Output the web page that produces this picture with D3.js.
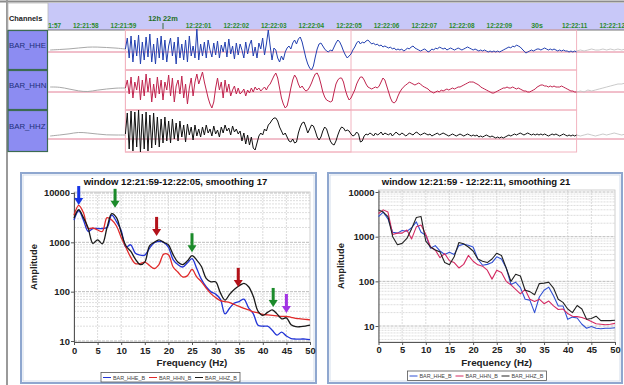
<!DOCTYPE html>
<html><head><meta charset="utf-8">
<script src="https://cdn.jsdelivr.net/npm/d3@7"></script>
<style>
html,body{margin:0;padding:0;background:#fff;}
svg{display:block;font-family:"Liberation Sans",Arial,sans-serif;}
</style></head><body>
<svg id="chart" width="624" height="385"></svg>
<script>
// ---------------- data ----------------
const channels = ["BAR_HHE", "BAR_HHN", "BAR_HHZ"];

// header time ticks, seconds relative to 12:22:00
const timeTickSeconds = [-3, -2, -1, 0, 1, 2, 3, 4, 5, 6, 7, 8, 9, 10, 11, 12];
const timeTickLabels = ["12:21:57", "12:21:58", "12:21:59", "12h 22m", "12:22:01", "12:22:02",
  "12:22:03", "12:22:04", "12:22:05", "12:22:06", "12:22:07", "12:22:08", "12:22:09", "30s",
  "12:22:11", "12:22:12"];
const markerLabels = ["12h 22m", "30s"];

// analysis windows (seconds relative to 12:22:00)
const windowStarts = [-1, -1];
const windowEnds = [5, 11];

// waveform samples (counts, scaled), 0.05 s apart from 12:21:59.00 to 12:22:11.00
const sampleStep = 0.05, sampleStart = -1.0;
const hheTrace = [3,14,-6,16,-10,12,-4,17,-12,10,-8,15,-5,18,-10,8,-12,14,-6,16,
  -8,12,-10,6,14,-4,10,-12,15,-6,8,-8,12,-10,16,-4,6,-6,23,-8,
  8,-4,10,-6,12,2,-5,9,-3,11,-6,7,0,10,-5,13,-2,6,-7,9,
  -3,8,2,-6,10,-2,7,12,-4,5,-6,9,3,14,-3,8,22,6,-8,4,
  2,-6,-10,-4,-8,0,4,6,3,9,12,8,13,15,10,2,-6,-12,-16,-18,
  -14,-5,3,8,9,6,3,1,0,2,1,5,9,12,10,6,1,-3,-6,-4,
  -2,2,5,9,11,8,10,9,11,12,10,8,9,7,8,6,7,5,6,5,
  4,5,3,4,2,3,2,3,1,2,4,3,5,6,4,3,2,1,2,3,
  2,0,1,3,2,4,3,5,4,3,4,2,3,4,3,2,3,4,3,2,
  3,4,5,4,3,2,3,2,1,2,1,2,1,0,1,0,1,0,1,0,
  1,2,3,4,5,4,6,5,7,6,5,3,1,-1,0,1,2,1,2,3,
  3,2,3,4,3,2,3,2,3,2,1,2,1,2,1,1,0,1,0,1,0];
const hhnTrace = [4,12,-2,15,-6,10,2,16,-8,12,-4,18,0,14,-10,8,-6,15,-2,12,
  -8,10,2,17,-4,14,-10,6,12,-2,16,-6,8,-12,4,14,-4,10,18,8,
  14,20,10,2,-6,-12,-16,-10,4,14,2,10,-6,12,0,8,-4,2,6,-2,
  4,-2,0,3,-4,2,-1,4,0,5,2,4,1,3,5,2,6,8,12,16,
  19,14,4,-6,-12,-16,-14,-6,4,12,17,14,8,4,6,3,1,2,5,9,
  14,18,19,15,8,0,-5,-8,-9,-10,-9,0,8,12,14,14,10,2,-4,-8,
  -6,-2,2,8,12,15,15,12,8,5,4,3,4,5,4,6,10,14,12,6,
  0,-6,-10,-11,-9,-4,0,3,5,7,8,10,9,8,7,8,9,8,6,5,
  4,3,1,0,-1,0,1,0,2,1,2,3,2,3,4,3,4,5,5,6,
  7,8,9,10,10,10,9,8,7,5,4,3,2,1,0,-1,-1,0,1,2,
  3,4,4,5,4,4,5,4,3,4,3,2,1,1,0,0,1,2,3,5,
  6,7,7,6,6,5,6,5,6,5,5,5,6,5,4,3,2,1,1,0,0];
const hhzTrace = [5,26,-10,28,-12,27,-8,29,-13,25,-10,27,-12,24,-9,26,-6,22,-8,20,
  -4,22,-2,18,-4,20,0,16,-2,18,2,14,-3,15,4,12,-1,14,3,10,
  2,12,4,14,6,10,3,13,5,9,2,12,6,14,8,11,4,13,7,10,
  5,8,-2,6,-5,4,-6,2,-9,-11,-4,3,6,4,10,8,14,16,19,21,
  21,18,12,8,4,6,2,-2,-3,0,-4,-3,6,12,16,17,12,6,10,14,
  13,8,2,-1,2,8,12,10,4,-2,-5,-6,-2,4,9,12,11,8,9,8,
  5,3,4,7,5,-3,-2,3,5,4,6,5,3,6,4,5,7,4,6,5,
  4,6,3,5,7,5,4,6,5,3,4,6,5,4,6,7,5,4,5,6,
  5,4,5,3,4,5,6,4,5,6,5,4,3,4,5,4,3,4,5,4,
  3,4,5,4,3,4,3,4,2,3,2,3,4,3,2,3,2,1,2,1,
  2,1,2,3,4,3,4,5,4,5,6,5,4,5,6,5,4,5,4,5,
  4,5,4,5,4,3,4,5,4,5,4,3,4,5,4,3,4,3,4,3,4];

// quiet signal outside the window: before (0.25 s apart from 12:21:57) and after (0.1 s apart from 12:22:11)
const preStep = 0.25, preStart = -3.0;
const postStep = 0.1, postStart = 11.0;
const hhePre = [2, 2.5, 3, 4, 5, 5, 4.5, 4, 3];
const hhnPre = [5, 5, 3, 1, 0, 2, 3, 4, 4];
const hhzPre = [3, 4, 5, 7, 6, 5, 4, 4, 4];
const hhePost = [1, 2, 1, 2, 3, 2, 2, 3, 2, 3, 2, 3, 2, 3];
const hhnPost = [0, 1, 0, 2, 1, 2, 3, 4, 5, 6, 7, 8, 8, 9];
const hhzPost = [4, 3, 4, 5, 4, 3, 4, 5, 4, 5, 6, 5, 4, 5];

// amplitude spectra, log10(amplitude) at 0..50 Hz
const frequencies = [0,1,2,3,4,5,6,7,8,9,10,11,12,13,14,15,16,17,18,19,20,21,22,23,24,25,
  26,27,28,29,30,31,32,33,34,35,36,37,38,39,40,41,42,43,44,45,46,47,48,49,50];
const spec1HHE = [3.45,3.64,3.45,3.22,3.28,3.28,3.28,3.30,3.55,3.42,3.24,2.90,2.95,2.78,2.74,2.74,2.88,2.99,3.02,3.00,
  2.90,2.65,2.55,2.50,2.58,2.67,2.47,2.25,2.10,2.00,1.95,1.85,1.55,1.67,1.77,1.80,1.85,1.67,1.55,1.32,
  1.30,1.30,1.22,1.12,1.18,1.10,1.05,1.04,1.04,1.04,1.03];
const spec1HHN = [3.55,3.75,3.60,3.28,3.29,3.25,3.22,3.50,3.45,3.33,3.10,2.90,2.70,2.57,2.57,2.60,2.53,2.47,2.55,2.76,
  2.75,2.50,2.40,2.30,2.32,2.45,2.30,2.20,2.07,1.96,1.88,1.82,1.80,1.78,1.74,1.70,1.66,1.63,1.59,1.57,
  1.54,1.53,1.52,1.51,1.50,1.50,1.48,1.46,1.45,1.44,1.43];
const spec1HHZ = [3.49,3.66,3.50,3.29,2.98,3.05,2.97,3.30,3.58,3.50,3.20,2.93,2.82,2.66,2.55,2.60,2.93,3.00,3.05,3.00,
  2.95,2.75,2.60,2.55,2.62,2.73,2.64,2.51,2.27,2.20,2.20,1.98,1.83,1.95,2.05,2.12,2.17,2.10,1.90,1.60,
  1.52,1.58,1.63,1.55,1.45,1.47,1.33,1.29,1.29,1.30,1.32];
const spec2HHE = [3.45,3.55,3.40,3.10,3.08,3.14,3.12,3.20,3.33,3.10,3.03,2.74,2.80,2.68,2.60,2.65,2.60,2.80,2.83,2.81,
  2.77,2.50,2.36,2.38,2.42,2.55,2.50,2.30,1.93,1.98,1.86,1.60,1.58,1.30,1.65,1.80,1.87,1.68,1.45,1.45,
  1.15,1.20,1.18,1.04,0.95,0.99,0.95,0.94,0.95,0.95,0.96];
const spec2HHN = [3.52,3.60,3.55,3.05,3.08,3.08,3.15,2.95,3.22,3.26,3.05,2.77,2.70,2.53,2.62,2.46,2.42,2.30,2.38,2.58,
  2.45,2.37,2.34,2.25,2.05,2.25,2.20,2.00,1.92,1.82,1.72,1.82,1.60,1.55,1.60,1.50,1.56,1.45,1.37,1.38,
  1.28,1.22,1.21,1.19,1.15,1.10,1.05,1.04,1.03,1.04,1.06];
const spec2HHZ = [3.60,3.55,3.45,3.00,2.82,2.85,2.96,3.18,3.43,3.45,2.90,2.77,2.70,2.66,2.42,2.37,2.55,2.87,2.84,2.77,
  2.68,2.50,2.45,2.42,2.50,2.63,2.58,2.30,2.00,2.16,2.12,1.80,1.77,1.70,1.95,1.96,1.98,1.85,1.60,1.53,
  1.38,1.30,1.46,1.38,1.15,1.17,1.22,1.12,1.12,1.12,1.13];
const seriesNames = ["BAR_HHE_B", "BAR_HHN_B", "BAR_HHZ_B"];
const freqTicks = [0, 5, 10, 15, 20, 25, 30, 35, 40, 45, 50];
const ampTicks = [10, 100, 1000, 10000];

// peak markers on the first spectrum
const arrowFreqs = [1.0, 8.7, 17.5, 25.0, 34.8, 42.2, 45.0];
const arrowAmps = [5700, 5000, 1350, 630, 125, 49, 37];
const arrowKinds = ["blue", "green", "red", "green", "red", "green", "purple"];

// ---------------- layout & style ----------------
const W = 624, H = 385;
const svg = d3.select("#chart");
const arrowColor = {blue: "#1634e6", green: "#1b8a2a", red: "#b3121a", purple: "#a234e4"};
const traceColors = ["#2340b0", "#c0244e", "#111111"];
const rows = [
  {top: 30, bottom: 70, zero: 52},
  {top: 70, bottom: 110, zero: 92},
  {top: 110, bottom: 152, zero: 139}
];
const traceLeft = 48;

// outer frame
svg.append("rect").attr("x", 0).attr("y", 0).attr("width", W).attr("height", H).attr("fill", "#fff");
svg.append("line").attr("x1", 0).attr("x2", W).attr("y1", 1.5).attr("y2", 1.5)
  .attr("stroke", "#8c8c8c").attr("stroke-width", 2);
svg.append("line").attr("x1", 7).attr("x2", 7).attr("y1", 0).attr("y2", H)
  .attr("stroke", "#9a9a9a").attr("stroke-width", 2);

// ---------------- trace viewer ----------------
const t0 = new Date(2000, 0, 1, 12, 22, 0);
const at = s => new Date(+t0 + s * 1000);
const xTime = d3.scaleTime().domain([at(-3.059), at(12.261)]).range([traceLeft, W]);

// header band
svg.append("rect").attr("x", traceLeft).attr("y", 3).attr("width", W - traceLeft).attr("height", 27)
  .attr("fill", "#c8c8f8");
svg.append("rect").attr("x", 8).attr("y", 3).attr("width", traceLeft - 8).attr("height", 27)
  .attr("fill", "#fff").attr("stroke", "#b8b8b8").attr("stroke-width", 0.8);
svg.append("text").attr("x", 9).attr("y", 21).attr("font-size", 7.4).attr("font-weight", "bold")
  .attr("fill", "#222").text("Channels");

const clip = svg.append("defs").append("clipPath").attr("id", "traceClip");
clip.append("rect").attr("x", traceLeft).attr("y", 0).attr("width", W - traceLeft).attr("height", 160);

const header = svg.append("g").attr("clip-path", "url(#traceClip)");
timeTickSeconds.forEach((s, i) => {
  const label = timeTickLabels[i];
  const x = xTime(at(s));
  if (label === markerLabels[0]) {
    header.append("text").attr("x", x).attr("y", 21).attr("text-anchor", "middle")
      .attr("font-size", 7.4).attr("font-weight", "bold").attr("fill", "#1f6f1f").text(label);
    header.append("line").attr("x1", x).attr("x2", x).attr("y1", 23).attr("y2", 30)
      .attr("stroke", "#3a6a3a").attr("stroke-width", 1);
  } else {
    header.append("text").attr("x", x - 2).attr("y", 27.5).attr("text-anchor", "middle")
      .attr("font-size", label === markerLabels[1] ? 7 : 6.4).attr("font-weight", "bold")
      .attr("fill", "#2b8a2b").text(label);
  }
});
svg.append("line").attr("x1", traceLeft).attr("x2", W).attr("y1", 30).attr("y2", 30)
  .attr("stroke", "#777").attr("stroke-width", 1);

// channel name cells
rows.forEach((r, i) => {
  svg.append("rect").attr("x", 8).attr("y", r.top + 0.5).attr("width", traceLeft - 8.5)
    .attr("height", r.bottom - r.top - 1).attr("fill", "#8c8cf2")
    .attr("stroke", "#3c6b52").attr("stroke-width", 1.2);
  svg.append("text").attr("x", 9).attr("y", (r.top + r.bottom) / 2 - 2).attr("font-size", 7.8)
    .attr("fill", "#1d2f7a").text(channels[i]);
});

// zero lines and analysis windows
const traces = svg.append("g").attr("clip-path", "url(#traceClip)");
rows.forEach(r => {
  traces.append("line").attr("x1", traceLeft).attr("x2", W).attr("y1", r.zero).attr("y2", r.zero)
    .attr("stroke", "#e0708a").attr("stroke-width", 0.9);
  windowStarts.forEach((ws, k) => {
    const x1 = xTime(at(ws)), x2 = xTime(at(windowEnds[k]));
    traces.append("rect").attr("x", x1).attr("y", r.top).attr("width", x2 - x1)
      .attr("height", r.bottom - r.top).attr("fill", "none")
      .attr("stroke", "#f2b4c0").attr("stroke-width", 1);
  });
});

const traceSets = [
  {pre: hhePre, main: hheTrace, post: hhePost},
  {pre: hhnPre, main: hhnTrace, post: hhnPost},
  {pre: hhzPre, main: hhzTrace, post: hhzPost}
];
traceSets.forEach((set, i) => {
  const r = rows[i];
  const y = d3.scaleLinear().domain([-30, 30]).range([r.zero + 30, r.zero - 30]);
  const line = (start, step) => d3.line()
    .x((d, j) => xTime(at(start + j * step)))
    .y(d => y(d));
  traces.append("path").attr("d", line(preStart, preStep).curve(d3.curveBasis)(set.pre))
    .attr("fill", "none").attr("stroke", "#a8a8a8").attr("stroke-width", 1);
  traces.append("path").attr("d", line(postStart, postStep)(set.post))
    .attr("fill", "none").attr("stroke", "#c4c4c4").attr("stroke-width", 0.9);
  traces.append("path").attr("d", line(sampleStart, sampleStep)(set.main))
    .attr("fill", "none").attr("stroke", traceColors[i]).attr("stroke-width", 1)
    .attr("stroke-linejoin", "round");
});

// ---------------- spectrum panels ----------------
function drawPanel(cfg) {
  const g = svg.append("g");
  g.append("rect").attr("x", cfg.box[0]).attr("y", cfg.box[1])
    .attr("width", cfg.box[2] - cfg.box[0]).attr("height", cfg.box[3] - cfg.box[1])
    .attr("fill", "#fff").attr("stroke", "#8fa7cf").attr("stroke-width", 2);
  g.append("rect").attr("x", cfg.box[0] + 2).attr("y", cfg.box[1] + 2)
    .attr("width", cfg.box[2] - cfg.box[0] - 4).attr("height", cfg.box[3] - cfg.box[1] - 4)
    .attr("fill", "none").attr("stroke", "#c9d4e6").attr("stroke-width", 0.8);

  const x = d3.scaleLinear().domain([0, 50]).range(cfg.xRange);
  const y = d3.scaleLog().domain(cfg.yDomain).range(cfg.yRange);
  const [px0, px1] = cfg.xRange, [py0, py1] = cfg.yRange;

  // grid
  const minor = y.ticks().filter(v => !ampTicks.includes(v));
  g.selectAll(null).data(minor).join("line")
    .attr("x1", px0).attr("x2", px1).attr("y1", d => y(d)).attr("y2", d => y(d))
    .attr("stroke", "#d6d6d6").attr("stroke-width", 0.8).attr("stroke-dasharray", "2,1");
  g.selectAll(null).data(ampTicks).join("line")
    .attr("x1", px0).attr("x2", px1).attr("y1", d => y(d)).attr("y2", d => y(d))
    .attr("stroke", "#b4b4b4").attr("stroke-width", 0.9).attr("stroke-dasharray", "3,1");
  g.selectAll(null).data(freqTicks.slice(1, -1)).join("line")
    .attr("x1", d => x(d)).attr("x2", d => x(d)).attr("y1", py1).attr("y2", py0)
    .attr("stroke", "#d2d2d2").attr("stroke-width", 0.8).attr("stroke-dasharray", "2,1");
  g.append("rect").attr("x", px0).attr("y", py1).attr("width", px1 - px0).attr("height", py0 - py1)
    .attr("fill", "none").attr("stroke", "#c4c4c4").attr("stroke-width", 0.8);

  // axes
  const ax = g.append("g").attr("transform", `translate(${px0},0)`)
    .call(d3.axisLeft(y).tickValues(ampTicks).tickFormat(d3.format("d")).tickSize(3).tickSizeOuter(0));
  const bx = g.append("g").attr("transform", `translate(0,${py0})`)
    .call(d3.axisBottom(x).tickValues(freqTicks).tickSize(3).tickSizeOuter(0));
  [ax, bx].forEach(a => {
    a.select(".domain").attr("stroke", "#555");
    a.selectAll(".tick line").attr("stroke", "#555");
    a.selectAll("text").attr("font-size", 9.4).attr("font-weight", "bold").attr("fill", "#222")
      .attr("font-family", "Liberation Sans, Arial, sans-serif");
  });
  ax.selectAll("text").attr("x", -4);
  bx.selectAll("text").attr("y", cfg.tickLabelGap);

  // titles
  g.append("text").attr("x", (cfg.box[0] + cfg.box[2]) / 2 + cfg.titleDx).attr("y", 185)
    .attr("text-anchor", "middle").attr("font-size", 9.5).attr("font-weight", "bold")
    .attr("fill", "#111").text(cfg.title);
  g.append("text").attr("x", (px0 + px1) / 2).attr("y", cfg.xLabelY).attr("text-anchor", "middle")
    .attr("font-size", 9.8).attr("font-weight", "bold").attr("fill", "#222").text("Frequency (Hz)");
  g.append("text").attr("transform", `translate(${cfg.yLabelX},${(py0 + py1) / 2}) rotate(-90)`)
    .attr("text-anchor", "middle").attr("font-size", 9.4).attr("font-weight", "bold")
    .attr("fill", "#222").text("Amplitude");

  // spectra
  const line = d3.line().x((d, i) => x(frequencies[i])).y(d => y(Math.pow(10, d))).curve(cfg.curve);
  const plot = g.append("g");
  cfg.series.forEach((s, i) => {
    plot.append("path").attr("d", line(s)).attr("fill", "none")
      .attr("stroke", cfg.colors[i]).attr("stroke-width", cfg.lineWidth).attr("stroke-linejoin", "round");
  });

  // legend
  const lg = g.append("g").attr("transform", `translate(${cfg.legend[0]},${cfg.legend[1]})`);
  lg.append("rect").attr("x", 0).attr("y", 0).attr("width", 139).attr("height", 9.5)
    .attr("fill", "#fff").attr("stroke", "#555").attr("stroke-width", 0.8);
  seriesNames.forEach((name, i) => {
    const ox = 2 + i * 46;
    lg.append("line").attr("x1", ox).attr("x2", ox + 8).attr("y1", 5).attr("y2", 5)
      .attr("stroke", cfg.colors[i]).attr("stroke-width", 1);
    lg.append("text").attr("x", ox + 10).attr("y", 7).attr("font-size", 5.4).attr("fill", "#444").text(name);
  });
  return {x, y, g};
}

const left = drawPanel({
  box: [21, 173, 316, 383],
  xRange: [74, 310], yRange: [342, 192], yDomain: [9.55, 10470],
  title: "window 12:21:59-12:22:05, smoothing 17", titleDx: 7,
  tickLabelGap: 5, xLabelY: 366, yLabelX: 37,
  series: [spec1HHE, spec1HHN, spec1HHZ],
  colors: ["#2234d6", "#e02a2a", "#1a1a1a"], lineWidth: 1.3,
  curve: d3.curveCatmullRom,
  legend: [101, 372.5]
});
const right = drawPanel({
  box: [328, 173, 622, 383],
  xRange: [378.5, 615], yRange: [342, 190], yDomain: [4.39, 11090],
  title: "window 12:21:59 - 12:22:11, smoothing 21", titleDx: 1,
  tickLabelGap: 4, xLabelY: 366, yLabelX: 344,
  series: [spec2HHE, spec2HHN, spec2HHZ],
  colors: ["#3050d4", "#d42a62", "#222222"], lineWidth: 1.1,
  curve: d3.curveLinear,
  legend: [407.5, 371]
});

// peak arrows on the first spectrum
const arrows = left.g.append("g");
arrowFreqs.forEach((f, i) => {
  const tx = left.x(f), ty = left.y(arrowAmps[i]);
  const c = arrowColor[arrowKinds[i]];
  arrows.append("rect").attr("x", tx - 1.5).attr("y", ty - 19).attr("width", 3).attr("height", 13).attr("fill", c);
  arrows.append("path").attr("d", `M${tx - 4.5},${ty - 7}L${tx + 4.5},${ty - 7}L${tx},${ty}Z`).attr("fill", c);
});
</script>
</body></html>
